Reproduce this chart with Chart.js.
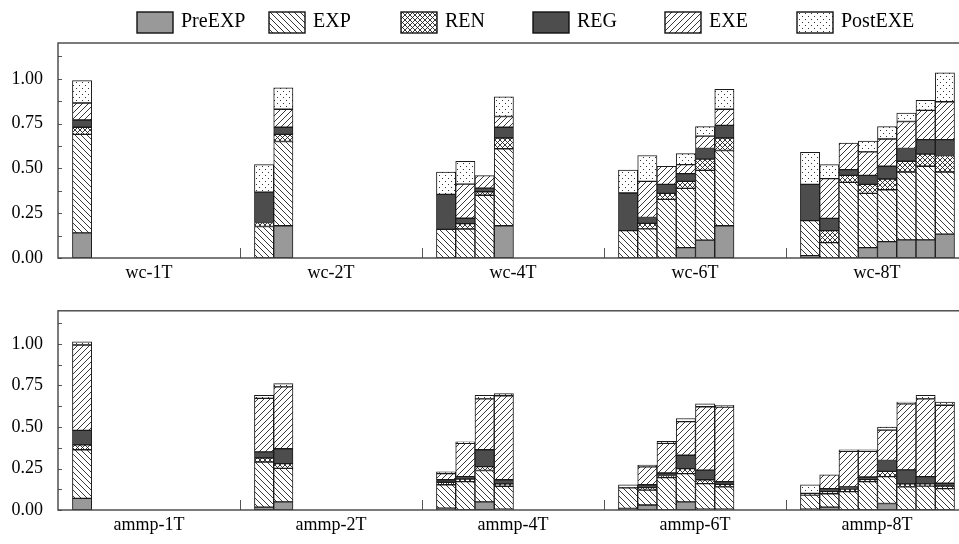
<!DOCTYPE html>
<html>
<head>
<meta charset="utf-8">
<script src="https://cdn.jsdelivr.net/npm/chart.js@4.4.1/dist/chart.umd.min.js"></script>
<style>
  html, body { margin: 0; padding: 0; background: #fff; overflow: hidden; }
  #wrap { position: relative; width: 959px; height: 544px; overflow: hidden; }
  .panel { position: absolute; left: 0; }
</style>
</head>
<body>
<div id="wrap">
  <div class="panel" style="top:0"><canvas id="wcChart" width="970" height="285"></canvas></div>
  <div class="panel" style="top:285px"><canvas id="ammpChart" width="970" height="259"></canvas></div>
</div>
<script>
// series names (legend order = stacking order, bottom to top)
const seriesNames = ['PreEXP', 'EXP', 'REN', 'REG', 'EXE', 'PostEXE'];
const threads = [1, 2, 4, 6, 8];
const wcGroups = ['wc-1T', 'wc-2T', 'wc-4T', 'wc-6T', 'wc-8T'];
const ammpGroups = ['ammp-1T', 'ammp-2T', 'ammp-4T', 'ammp-6T', 'ammp-8T'];
const yTicks = [0, 0.25, 0.5, 0.75, 1.0];

// one value per bar: 1T | 2T x2 | 4T x4 | 6T x6 | 8T x8
const wcPreEXP  = [0.14, 0, 0.18, 0, 0, 0, 0.18, 0, 0, 0, 0.058, 0.10, 0.18, 0.013, 0, 0, 0.058, 0.091, 0.101, 0.101, 0.133];
const wcEXP     = [0.55, 0.176, 0.47, 0.16, 0.162, 0.35, 0.43, 0.153, 0.163, 0.327, 0.331, 0.389, 0.42, 0.196, 0.086, 0.422, 0.303, 0.29, 0.379, 0.411, 0.347];
const wcREN     = [0.04, 0.022, 0.04, 0, 0.03, 0.02, 0.06, 0, 0.03, 0.034, 0.039, 0.063, 0.07, 0, 0.067, 0.039, 0.05, 0.06, 0.06, 0.068, 0.092];
const wcREG     = [0.04, 0.17, 0.04, 0.195, 0.03, 0.02, 0.06, 0.21, 0.033, 0.05, 0.043, 0.059, 0.07, 0.202, 0.068, 0.032, 0.05, 0.071, 0.071, 0.081, 0.089];
const wcEXE     = [0.095, 0, 0.10, 0, 0.19, 0.07, 0.06, 0, 0.202, 0.10, 0.05, 0.069, 0.09, 0, 0.222, 0.149, 0.131, 0.152, 0.151, 0.163, 0.211];
const wcPostEXE = [0.125, 0.153, 0.12, 0.125, 0.128, 0, 0.11, 0.128, 0.144, 0, 0.062, 0.053, 0.112, 0.179, 0.078, 0, 0.06, 0.069, 0.047, 0.056, 0.162];

const ammpPreEXP  = [0.07, 0.017, 0.049, 0.011, 0, 0.049, 0.005, 0.01, 0.03, 0, 0.049, 0.005, 0.005, 0.005, 0.017, 0, 0, 0.039, 0, 0, 0];
const ammpEXP     = [0.293, 0.272, 0.202, 0.141, 0.171, 0.189, 0.138, 0.123, 0.09, 0.195, 0.17, 0.154, 0.134, 0.085, 0.081, 0.111, 0.171, 0.162, 0.139, 0.144, 0.129];
const ammpREN     = [0.029, 0.024, 0.028, 0.015, 0.015, 0.023, 0.014, 0, 0.015, 0.013, 0.03, 0.023, 0.015, 0.01, 0.013, 0.015, 0.011, 0.032, 0.018, 0.013, 0.015];
const ammpREG     = [0.088, 0.037, 0.09, 0.015, 0.015, 0.102, 0.025, 0, 0.017, 0.015, 0.081, 0.058, 0.017, 0, 0.018, 0.013, 0.017, 0.065, 0.085, 0.044, 0.017];
const ammpEXE     = [0.514, 0.322, 0.373, 0.037, 0.2, 0.306, 0.506, 0, 0.108, 0.178, 0.202, 0.382, 0.449, 0, 0.083, 0.215, 0.155, 0.183, 0.398, 0.468, 0.47];
const ammpPostEXE = [0.019, 0.019, 0.019, 0.011, 0.009, 0.022, 0.014, 0.019, 0.01, 0.013, 0.019, 0.018, 0.011, 0.052, 0, 0.009, 0.009, 0.019, 0.01, 0.022, 0.019];

// x layout in "bar slots"
const GROUP_SLOTS = 9.45;
const LEAD = 0.75;
const FONT = "'Liberation Serif', 'Times New Roman', serif";

function makePattern(kind){
    const s = kind === 'dots' ? 6 : (kind === 'cross' ? 5 : 6);
    const c = document.createElement('canvas');
    c.width = s; c.height = s;
    const g = c.getContext('2d');
    g.fillStyle = '#fff';
    g.fillRect(0, 0, s, s);
    g.strokeStyle = '#222';
    g.fillStyle = '#333';
    g.lineWidth = 0.9;
    const back = () => {
        g.beginPath();
        g.moveTo(-1, -1); g.lineTo(s + 1, s + 1);
        g.moveTo(-1, s - 1); g.lineTo(1, s + 1);
        g.moveTo(s - 1, -1); g.lineTo(s + 1, 1);
        g.stroke();
    };
    const fwd = () => {
        g.beginPath();
        g.moveTo(-1, s + 1); g.lineTo(s + 1, -1);
        g.moveTo(-1, 1); g.lineTo(1, -1);
        g.moveTo(s - 1, s + 1); g.lineTo(s + 1, s - 1);
        g.stroke();
    };
    if (kind === 'back') back();
    if (kind === 'fwd') fwd();
    if (kind === 'cross') { back(); fwd(); }
    if (kind === 'dots') {
        g.fillRect(1, 1, 1, 1);
        g.fillRect(4, 4, 1, 1);
    }
    return g.createPattern(c, 'repeat');
}

const fills = [
    '#999999',
    makePattern('back'),
    makePattern('cross'),
    '#4d4d4d',
    makePattern('fwd'),
    makePattern('dots')
];

function barPositions(){
    const xs = [];
    threads.forEach((n, g) => {
        for (let i = 0; i < n; i++) xs.push(g * GROUP_SLOTS + LEAD + i + 0.5);
    });
    return xs;
}

function buildDatasets(seriesList){
    const xs = barPositions();
    return seriesList.map((vals, k) => ({
        label: seriesNames[k],
        data: vals.map((v, i) => ({x: xs[i], y: v})),
        backgroundColor: fills[k],
        borderColor: '#1a1a1a',
        borderWidth: 1,
        borderSkipped: false,
        barPercentage: 1,
        categoryPercentage: 1
    }));
}

// plot frame, inner y ticks, group separators
const framePlugin = {
    id: 'frame',
    afterDatasetsDraw(chart){
        const {ctx, chartArea: a, scales} = chart;
        ctx.save();
        ctx.strokeStyle = '#555';
        ctx.lineWidth = 1;
        for (let v = 0; v <= 1.13; v += 0.125) {
            const y = Math.round(scales.y.getPixelForValue(v)) + 0.5;
            ctx.beginPath(); ctx.moveTo(a.left, y); ctx.lineTo(a.left + 4, y); ctx.stroke();
        }
        for (let g = 1; g < threads.length; g++) {
            const x = Math.round(scales.x.getPixelForValue(g * GROUP_SLOTS)) + 0.5;
            ctx.beginPath(); ctx.moveTo(x, a.bottom); ctx.lineTo(x, a.bottom - 10); ctx.stroke();
        }
        ctx.strokeStyle = '#444';
        ctx.lineWidth = 1.4;
        ctx.strokeRect(a.left, a.top, a.right - a.left, a.bottom - a.top);
        ctx.restore();
    }
};

const legendPlugin = {
    id: 'boxLegend',
    afterDraw(chart){
        const ctx = chart.ctx;
        ctx.save();
        ctx.font = '20px ' + FONT;
        ctx.textBaseline = 'middle';
        ctx.fillStyle = '#000';
        chart.data.datasets.forEach((ds, i) => {
            const x = 137 + 132 * i;
            ctx.fillStyle = ds.backgroundColor;
            ctx.fillRect(x, 12, 36, 21);
            ctx.strokeStyle = '#111';
            ctx.lineWidth = 1.4;
            ctx.strokeRect(x, 12, 36, 21);
            ctx.fillStyle = '#000';
            ctx.fillText(ds.label, x + 44, 22);
        });
        ctx.restore();
    }
};

function panelOptions(groups, padTop, xHeight){
    return {
        responsive: false,
        animation: false,
        layout: {padding: {top: padTop, right: 2, left: 0, bottom: 0}},
        plugins: {legend: {display: false}, tooltip: {enabled: false}},
        scales: {
            x: {
                type: 'linear',
                stacked: true,
                offset: false,
                min: 0,
                max: GROUP_SLOTS * threads.length,
                grid: {display: false, drawTicks: false, offset: false},
                border: {display: false},
                afterBuildTicks: s => { s.ticks = groups.map((g, i) => ({value: (i + 0.5) * GROUP_SLOTS})); },
                afterFit: s => { s.height = xHeight; },
                ticks: {
                    autoSkip: false, maxRotation: 0, padding: 4, color: '#000',
                    font: {family: FONT, size: 18},
                    callback: (v, i) => groups[i]
                }
            },
            y: {
                stacked: true,
                min: 0,
                max: 1.2,
                grid: {display: false, drawTicks: false},
                border: {display: false},
                afterBuildTicks: s => { s.ticks = yTicks.map(v => ({value: v})); },
                afterFit: s => { s.width = 58; },
                ticks: {
                    padding: 15, color: '#000',
                    font: {family: FONT, size: 18},
                    callback: v => v.toFixed(2)
                }
            }
        }
    };
}

window.addEventListener('load', () => {
    new Chart(document.getElementById('wcChart').getContext('2d'), {
        type: 'bar',
        data: {datasets: buildDatasets([wcPreEXP, wcEXP, wcREN, wcREG, wcEXE, wcPostEXE])},
        options: panelOptions(wcGroups, 43, 27),
        plugins: [framePlugin, legendPlugin]
    });
    new Chart(document.getElementById('ammpChart').getContext('2d'), {
        type: 'bar',
        data: {datasets: buildDatasets([ammpPreEXP, ammpEXP, ammpREN, ammpREG, ammpEXE, ammpPostEXE])},
        options: panelOptions(ammpGroups, 11, 34),
        plugins: [framePlugin]
    });
});
</script>
</body>
</html>
